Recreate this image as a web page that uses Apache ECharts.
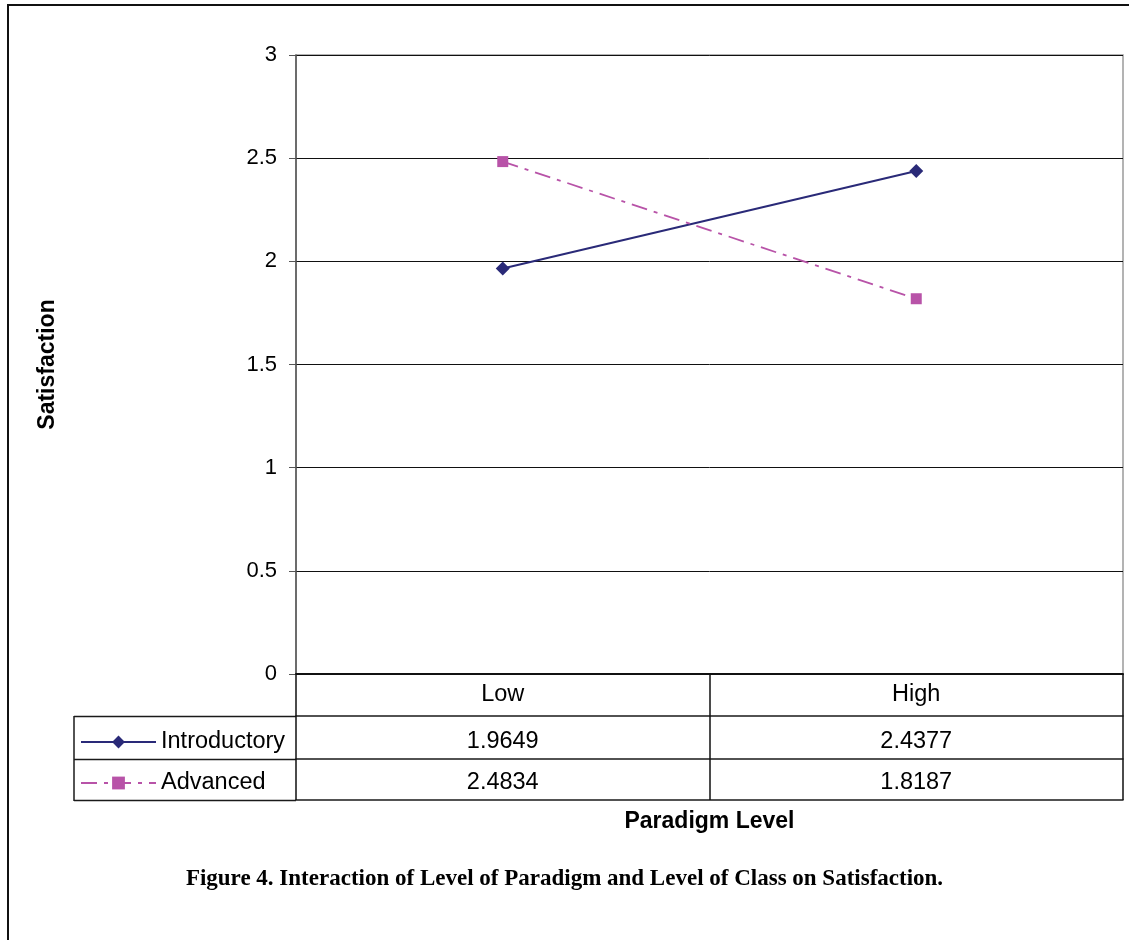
<!DOCTYPE html>
<html>
<head>
<meta charset="utf-8">
<script src="https://cdn.jsdelivr.net/npm/echarts@6/dist/echarts.min.js"></script>
<style>
html,body{margin:0;padding:0;background:#fff;}
#chart{width:1129px;height:940px;}
</style>
</head>
<body>
<div id="chart"></div>
<script>
const categories = ['Low', 'High'];
const introductory = [1.9649, 2.4377];
const advanced = [2.4834, 1.8187];
const seriesNames = ['Introductory', 'Advanced'];
const yTicks = { min: 0, max: 3, interval: 0.5 };
const captionText = 'Figure 4. Interaction of Level of Paradigm and Level of Class on Satisfaction.';
const xTitle = 'Paradigm Level';
const yTitle = 'Satisfaction';

const FONT = '"Liberation Sans", Arial, sans-serif';
const navy = '#2a2a78';
const magenta = '#b853a8';

const chart = echarts.init(document.getElementById('chart'), null, { renderer: 'canvas' });

function tableAxis(offset, values, margin, extra) {
  return Object.assign({
    type: 'category',
    data: categories,
    position: 'bottom',
    offset: offset,
    boundaryGap: true,
    axisLine: { show: true, lineStyle: { color: '#1a1a1a', width: 1.5 } },
    axisTick: { show: false },
    axisLabel: {
      show: values !== null,
      margin: margin,
      color: '#000',
      fontFamily: FONT,
      fontSize: 23.5,
      formatter: function (v, i) { return values ? String(values[i]) : ''; }
    },
    splitLine: { show: false }
  }, extra || {});
}

const option = {
  backgroundColor: '#fff',
  animation: false,
  title: {
    text: captionText,
    left: 'center',
    top: 863,
    textStyle: {
      fontFamily: '"Liberation Serif", "Times New Roman", serif',
      fontWeight: 'bold',
      fontSize: 23,
      color: '#000'
    }
  },
  grid: {
    left: 296, right: 6, top: 55, bottom: 266,
    show: true, borderColor: '#9a9a9a', borderWidth: 1.5, backgroundColor: 'transparent'
  },
  legend: {
    orient: 'vertical',
    left: 80,
    top: 730,
    padding: 0,
    itemWidth: 75,
    itemHeight: 16,
    itemGap: 17,
    data: seriesNames,
    textStyle: { fontFamily: FONT, fontSize: 23.5, color: '#000', lineHeight: 24 }
  },
  xAxis: [
    {
      type: 'category',
      data: categories,
      position: 'bottom',
      boundaryGap: true,
      axisLine: { show: true, lineStyle: { color: '#111', width: 2 } },
      axisTick: { show: true, alignWithLabel: false, length: 126, lineStyle: { color: '#111', width: 1.5 } },
      axisLabel: { margin: 9, color: '#000', fontFamily: FONT, fontSize: 23.5 },
      splitLine: { show: false }
    },
    tableAxis(42, introductory, 14),
    tableAxis(85, advanced, 12),
    tableAxis(126, null, 10, {
      name: xTitle,
      nameLocation: 'middle',
      nameGap: 10,
      nameTextStyle: { fontFamily: FONT, fontSize: 23, fontWeight: 'bold', color: '#000' }
    })
  ],
  yAxis: {
    type: 'value',
    min: yTicks.min, max: yTicks.max, interval: yTicks.interval,
    name: yTitle,
    nameLocation: 'middle',
    nameRotate: 90,
    nameGap: 237,
    nameTextStyle: { fontFamily: FONT, fontSize: 23, fontWeight: 'bold', color: '#000' },
    axisLine: { show: true, lineStyle: { color: '#555', width: 1.5 } },
    axisTick: { show: true, length: 7, lineStyle: { color: '#555', width: 1 } },
    axisLabel: { margin: 19, color: '#000', fontFamily: FONT, fontSize: 22 },
    splitLine: { show: true, lineStyle: { color: '#111', width: 1 } }
  },
  series: [
    {
      name: seriesNames[0],
      type: 'line',
      xAxisIndex: 0,
      data: introductory,
      symbol: 'diamond',
      symbolSize: 14,
      itemStyle: { color: navy },
      lineStyle: { color: navy, width: 2 }
    },
    {
      name: seriesNames[1],
      type: 'line',
      xAxisIndex: 0,
      data: advanced,
      symbol: 'rect',
      symbolSize: 11,
      itemStyle: { color: magenta },
      lineStyle: { color: magenta, width: 1.8, type: [16, 7, 4, 7] }
    }
  ],
  graphic: [
    { type: 'rect', shape: { x: 8, y: 5, width: 1200, height: 1000 }, style: { fill: 'none', stroke: '#111', lineWidth: 2 }, silent: true },
    { type: 'line', shape: { x1: 74, y1: 716.5, x2: 296, y2: 716.5 }, style: { stroke: '#1a1a1a', lineWidth: 1.5 }, silent: true },
    { type: 'line', shape: { x1: 74, y1: 759.5, x2: 296, y2: 759.5 }, style: { stroke: '#1a1a1a', lineWidth: 1.5 }, silent: true },
    { type: 'line', shape: { x1: 74, y1: 800.5, x2: 296, y2: 800.5 }, style: { stroke: '#1a1a1a', lineWidth: 1.5 }, silent: true },
    { type: 'line', shape: { x1: 74, y1: 716, x2: 74, y2: 801 }, style: { stroke: '#1a1a1a', lineWidth: 1.5 }, silent: true }
  ]
};
chart.setOption(option);
</script>
</body>
</html>
